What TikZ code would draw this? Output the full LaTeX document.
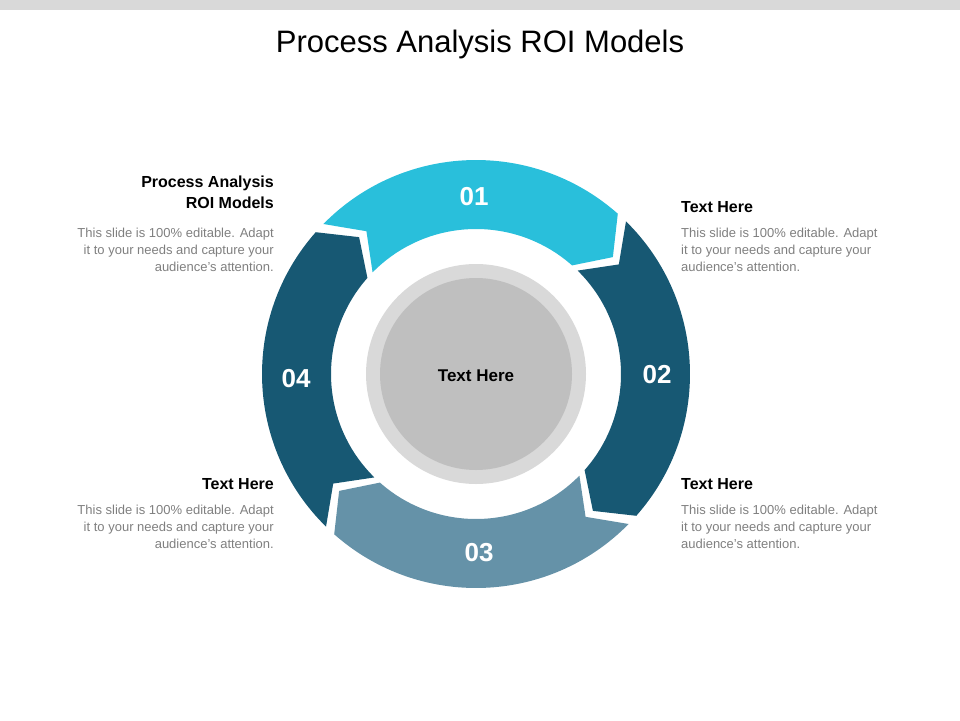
\documentclass[tikz,border=0pt]{standalone}
\usepackage{fontspec}
\setmainfont{Liberation Sans}
\definecolor{cyanA}{HTML}{29BFDB}
\definecolor{navyA}{HTML}{175873}
\definecolor{steelA}{HTML}{6592A8}
\definecolor{bodyG}{HTML}{7F7F7F}
\begin{document}
\begin{tikzpicture}[x=1pt,y=-1pt,
  num/.style={text=white,font=\fontsize{26}{30}\selectfont\bfseries},
  head/.style={font=\fontsize{16}{19}\selectfont\bfseries,inner sep=0pt},
  body/.style={text=bodyG,font=\fontsize{13}{17}\selectfont,inner sep=0pt}]
\useasboundingbox (0,0) rectangle (960,720);
\fill[gray!30] (0,0) rectangle (960,10);
\node (title) at (480,44) {\fontsize{31}{36}\selectfont Process Analysis ROI Models};
\begin{scope}[shift={(476,374)},y=1pt]
\def\Ro{214}\def\Ri{145}\def\Rm{180}
\foreach \s/\e/\c in {137/47/cyanA,47/-43/navyA,-43/-133/steelA,-133/-223/navyA}{
  \fill[\c] (\s-1.5:\Ro) arc[start angle=\s-1.5,end angle=\e+1.5,radius=\Ro]
    -- (\e+1.5-8:\Rm) -- (\e+1.5:\Ri)
    arc[start angle=\e+1.5,end angle=\s-1.5,radius=\Ri]
    -- (\s-1.5-8:\Rm) -- cycle;
}
\fill[gray!30] (0,0) circle (110);
\fill[gray!50] (0,0) circle (96);
\end{scope}
\node[font=\fontsize{17}{20}\selectfont\bfseries] (center) at (476,376) {Text Here};
\node[num] (n1) at (474,197) {01};
\node[num] (n2) at (657,375) {02};
\node[num] (n3) at (479,553) {03};
\node[num] (n4) at (296,379) {04};
% left top
\node[head,anchor=north east,align=right] (h1) at (274,176) {Process Analysis\\[2pt]ROI Models};
\node[body,anchor=north east,align=right] (b1) at (274,228) {This slide is 100\% editable. Adapt\\it to your needs and capture your\\audience's attention.};
\node[head,anchor=north west] (h2) at (681,201) {Text Here};
\node[body,anchor=north west,align=left] (b2) at (681,228) {This slide is 100\% editable. Adapt\\it to your needs and capture your\\audience's attention.};
\node[head,anchor=north west] (h3) at (681,478) {Text Here};
\node[body,anchor=north west,align=left] (b3) at (681,505) {This slide is 100\% editable. Adapt\\it to your needs and capture your\\audience's attention.};
\node[head,anchor=north east] (h4) at (274,478) {Text Here};
\node[body,anchor=north east,align=right] (b4) at (274,505) {This slide is 100\% editable. Adapt\\it to your needs and capture your\\audience's attention.};
\end{tikzpicture}
\end{document}
